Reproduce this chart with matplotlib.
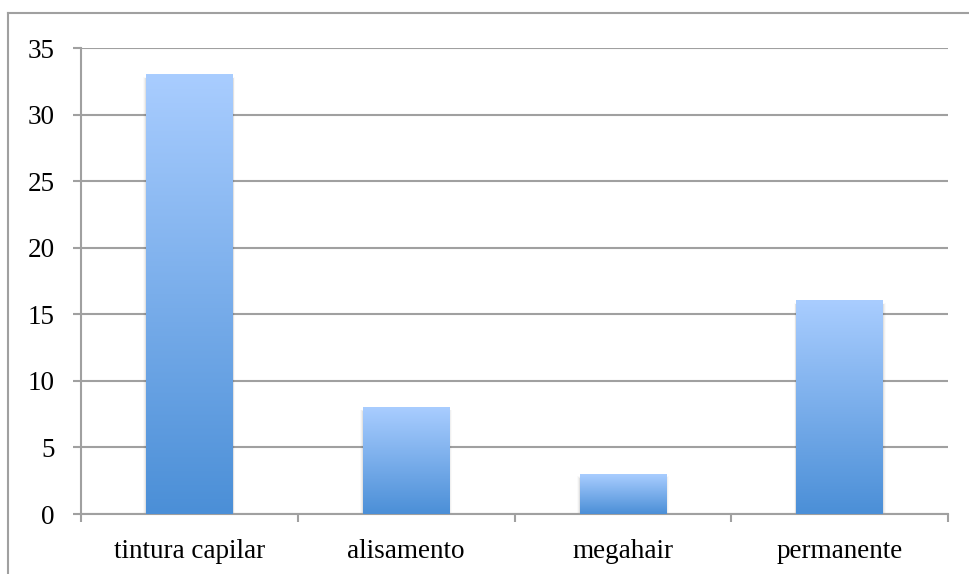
import matplotlib
matplotlib.use("Agg")
import matplotlib.pyplot as plt
import numpy as np
from matplotlib.colors import LinearSegmentedColormap
from matplotlib.lines import Line2D

categories = ["tintura capilar", "alisamento", "megahair", "permanente"]
values = [33, 8, 3, 16]
y_ticks = [0, 5, 10, 15, 20, 25, 30, 35]

plt.rcParams["font.family"] = ["Liberation Serif", "DejaVu Serif"]
plt.rcParams["font.size"] = 19.5

W, H = 969, 574
fig = plt.figure(figsize=(W / 100, H / 100), dpi=100)
fig.patch.set_facecolor("white")

# outer chart border (left and top visible)
fig.add_artist(Line2D([8 / W, 8 / W], [0, 1 - 13 / H], transform=fig.transFigure,
                      color="#a0a0a0", lw=1.5))
fig.add_artist(Line2D([8 / W, 1], [1 - 13 / H, 1 - 13 / H], transform=fig.transFigure,
                      color="#a0a0a0", lw=1.5))

left, right, top, bottom = 81, 948, 48, 514
ax = fig.add_axes([left / W, 1 - bottom / H, (right - left) / W, (bottom - top) / H])

x = np.arange(len(categories))
bars = ax.bar(x, values, width=0.4, color="none", zorder=3)

cmap = LinearSegmentedColormap.from_list("g", ["#4b8fd7", "#a9cdff"])
grad = np.linspace(0, 1, 256).reshape(-1, 1)
for b in bars:
    x0, w, h = b.get_x(), b.get_width(), b.get_height()
    # soft shadow to the sides
    for k, a in enumerate([0.06, 0.04, 0.02]):
        d = (k + 1) * 0.004
        ax.add_patch(plt.Rectangle((x0 - d, 0), w + 2 * d, h - 0.3 + d * 10,
                                   facecolor="#000000", alpha=a, lw=0, zorder=2))
    ax.imshow(grad, extent=[x0, x0 + w, 0, h], origin="lower", cmap=cmap,
              aspect="auto", zorder=4, interpolation="bilinear")

ax.set_xlim(-0.5, len(categories) - 0.5)
ax.set_ylim(0, 35)
ax.set_yticks(y_ticks)
ax.set_yticklabels([str(t) for t in y_ticks])
ax.set_xticks(np.arange(len(categories) + 1) - 0.5)
ax.set_xticklabels([])
ax.set_xticks(x, minor=True)
ax.set_xticklabels(categories, minor=True)
ax.tick_params(axis="x", which="minor", length=0, pad=18, labelsize=19.5)
ax.tick_params(axis="x", which="major", length=6, width=1.5, color="#a0a0a0")
ax.tick_params(axis="y", length=6, width=1.5, color="#a0a0a0", pad=13, labelsize=19.5)

ax.yaxis.grid(True, color="#a0a0a0", lw=1.5, zorder=0)
ax.set_axisbelow(True)
for s in ["top", "right"]:
    ax.spines[s].set_visible(False)
for s in ["left", "bottom"]:
    ax.spines[s].set_color("#a0a0a0")
    ax.spines[s].set_linewidth(1.5)

fig.savefig("out.png", dpi=100, facecolor="white")
